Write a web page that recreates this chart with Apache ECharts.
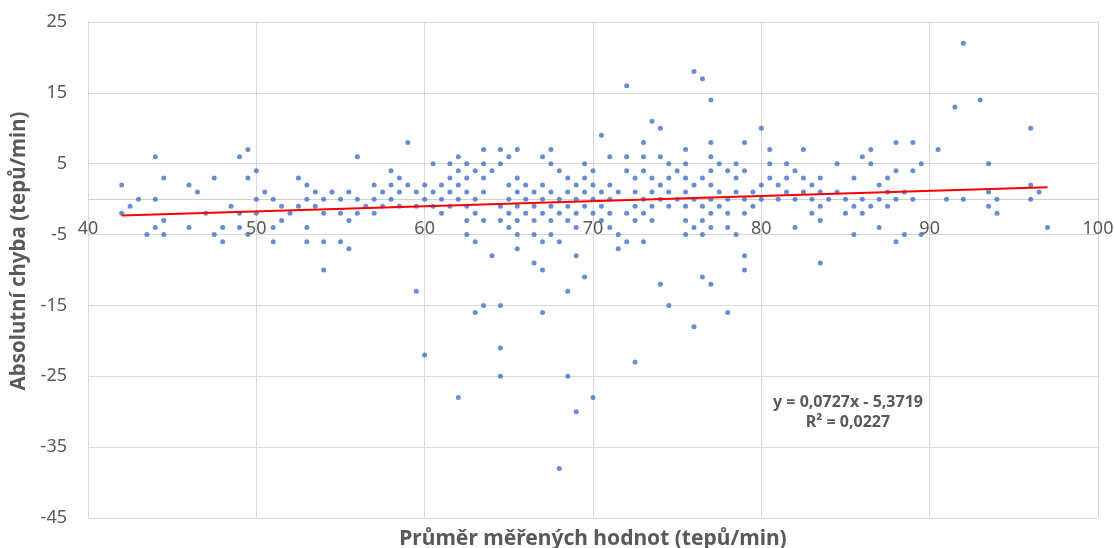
<!DOCTYPE html>
<html>
<head>
<meta charset="utf-8">
<script src="https://cdn.jsdelivr.net/npm/echarts@6/dist/echarts.min.js"></script>
<style>
  html, body { margin: 0; padding: 0; background: #fff; }
  #chart { width: 1114px; height: 548px; }
</style>
</head>
<body>
<div id="chart"></div>
<script>
// prumer mereni (x) a absolutni chyba (y), po bodech
var avgHr = [
  42, 42, 42.5, 43, 43.5, 44, 44, 44, 44.5, 44.5, 44.5, 46, 46, 46.5, 47, 47.5, 47.5, 48, 48, 48.5, 49, 49, 49, 49.5, 49.5, 49.5,
  50, 50, 50, 50.5, 51, 51, 51, 51.5, 51.5, 52, 52.5, 52.5, 53, 53, 53, 53, 53.5, 53.5, 54, 54, 54, 54, 54.5, 55, 55, 55, 55.5, 55.5, 55.5,
  56, 56, 56, 56.5, 57, 57, 57, 57.5, 57.5, 58, 58, 58, 58.5, 58.5, 58.5, 59, 59, 59.5, 59.5, 59.5,
  60, 60, 60, 60.5, 60.5, 60.5, 61, 61, 61, 61.5, 61.5, 61.5, 61.5, 62, 62, 62, 62, 62, 62.5, 62.5, 62.5, 62.5, 62.5, 62.5,
  63, 63, 63, 63, 63, 63.5, 63.5, 63.5, 63.5, 63.5, 63.5, 64, 64, 64.5, 64.5, 64.5, 64.5, 64.5, 64.5, 64.5,
  65, 65, 65, 65, 65, 65.5, 65.5, 65.5, 65.5, 65.5, 65.5, 65.5, 66, 66, 66, 66.5, 66.5, 66.5, 66.5, 66.5,
  67, 67, 67, 67, 67, 67, 67, 67.5, 67.5, 67.5, 67.5, 67.5, 67.5, 68, 68, 68, 68, 68, 68.5, 68.5, 68.5, 68.5, 68.5, 68.5,
  69, 69, 69, 69, 69, 69, 69.5, 69.5, 69.5, 69.5, 69.5,
  70, 70, 70, 70, 70, 70.5, 70.5, 70.5, 70.5, 71, 71, 71, 71, 71, 71.5, 71.5, 71.5, 72, 72, 72, 72, 72, 72.5, 72.5, 72.5, 72.5, 72.5,
  73, 73, 73, 73, 73, 73, 73.5, 73.5, 73.5, 73.5, 73.5, 74, 74, 74, 74, 74, 74.5, 74.5, 74.5, 74.5, 74.5, 75, 75,
  75.5, 75.5, 75.5, 75.5, 75.5, 75.5, 75.5, 76, 76, 76, 76, 76, 76.5, 76.5, 76.5, 76.5, 76.5, 76.5,
  77, 77, 77, 77, 77, 77, 77, 77, 77, 77.5, 77.5, 77.5, 78, 78, 78, 78, 78, 78.5, 78.5, 78.5, 78.5, 79, 79, 79, 79, 79, 79, 79.5, 79.5,
  80, 80, 80, 80.5, 80.5, 80.5, 81, 81, 81.5, 81.5, 81.5, 82, 82, 82, 82.5, 82.5, 82.5, 83, 83, 83, 83.5, 83.5, 83.5, 83.5, 83.5,
  84, 84.5, 84.5, 85, 85, 85.5, 85.5, 85.5, 86, 86, 86, 86.5, 86.5, 86.5, 87, 87, 87, 87.5, 87.5, 87.5, 88, 88, 88, 88, 88.5, 88.5,
  89, 89, 89, 89.5, 89.5,
  90.5, 91, 91.5, 92, 92, 93, 93.5, 93.5, 93.5, 94, 94, 96, 96, 96, 96.5, 97
];
var absErr = [
  2, -2, -1, 0, -5, 6, 0, -4, 3, -3, -5, 2, -4, 1, -2, 3, -5, -4, -6, -1, 6, -2, -4, 7, 3, -5,
  4, 0, -2, 1, 0, -4, -6, -1, -3, -2, 3, -1, 2, 0, -4, -6, 1, -1, 0, -2, -6, -10, 1, 0, -2, -6, 1, -3, -7,
  6, 0, -2, -1, 2, 0, -2, 1, -1, 4, 2, 0, 3, 1, -1, 8, 2, 1, -1, -13,
  2, 0, -22, 5, 1, -1, 2, 0, -2, 5, 3, 1, -1, 6, 4, 2, 0, -28, 5, 3, 1, -1, -3, -5,
  4, 0, -2, -6, -16, 7, 5, 3, 1, -3, -15, 4, -8, 7, 5, -1, -3, -15, -21, -25,
  6, 2, 0, -2, -4, 7, 3, 1, -1, -3, -5, -7, 2, 0, -2, 1, -1, -3, -5, -9,
  6, 2, 0, -2, -6, -10, -16, 7, 5, 1, -1, -3, -5, 4, 0, -2, -6, -38, 3, 1, -1, -3, -13, -25,
  2, 0, -2, -4, -8, -30, 5, 3, 1, -1, -11,
  4, 2, 0, -2, -28, 9, 1, -1, -3, 6, 2, 0, -2, -4, 1, -5, -7, 16, 6, 4, -2, -6, 3, 1, -1, -3, -23,
  8, 6, 4, 0, -2, -6, 11, 3, 1, -1, -3, 10, 6, 2, 0, -12, 5, 3, 1, -1, -15, 4, 0,
  7, 5, 3, 1, -1, -3, -5, 18, 2, 0, -4, -18, 17, 3, -1, -3, -5, -11,
  14, 8, 6, 4, 2, 0, -2, -4, -12, 5, 1, -1, 4, 0, -2, -4, -16, 5, 3, 1, -5, 8, 4, 0, -2, -8, -10, 1, -1,
  10, 2, 0, 7, 5, 3, 2, 0, 5, 3, 1, 4, 0, -4, 7, 3, 1, 2, 0, -2, 3, 1, -1, -3, -9,
  0, 5, 1, 0, -2, 3, -1, -5, 6, 0, -2, 7, 5, -1, 2, 0, -4, 3, 1, -1, 8, 4, 0, -6, 1, -5,
  8, 4, 0, 5, -5,
  7, 0, 13, 22, 0, 14, 5, 1, -1, 0, -2, 10, 2, 0, 1, -4
];

// linearni trend (Excel)
var trendSlope = 0.0727;
var trendIntercept = -5.3719;
var trendLabel = ['y = 0,0727x - 5,3719', 'R² = 0,0227'];

var xTicks = { min: 40, max: 100, step: 10 };
var yTicks = { min: -45, max: 25, step: 10 };

var points = avgHr.map(function (x, i) { return [x, absErr[i]]; });
var xLo = Math.min.apply(null, avgHr);
var xHi = Math.max.apply(null, avgHr);
var trend = [
  [xLo, trendSlope * xLo + trendIntercept],
  [xHi, trendSlope * xHi + trendIntercept]
];

// onZero nefunguje spolehlive -> posun osy x na nulu rucne
var gridTop = 22, gridBottom = 30, H = 548;
var plotH = H - gridTop - gridBottom;
var zeroShift = -plotH * (0 - yTicks.min) / (yTicks.max - yTicks.min);

var gray = '#595959';
var chart = echarts.init(document.getElementById('chart'));

chart.setOption({
  animation: false,
  textStyle: { fontFamily: 'Noto Sans' },
  grid: { left: 88, right: 16, top: gridTop, bottom: gridBottom, outerBoundsMode: 'none', containLabel: false },
  xAxis: {
    type: 'value',
    min: xTicks.min, max: xTicks.max, interval: xTicks.step,
    offset: zeroShift,
    name: 'Průměr měřených hodnot (tepů/min)',
    nameLocation: 'middle',
    nameGap: 329,
    nameTextStyle: { color: gray, fontSize: 21, fontWeight: 'bold' },
    axisLine: { show: true, onZero: false, lineStyle: { color: '#d0d0d0', width: 1 } },
    axisTick: { show: false },
    axisLabel: { color: gray, fontSize: 18, margin: 21 },
    splitLine: { lineStyle: { color: '#d9d9d9' } }
  },
  yAxis: {
    type: 'value',
    min: yTicks.min, max: yTicks.max, interval: yTicks.step,
    name: 'Absolutní chyba (tepů/min)',
    nameLocation: 'middle',
    nameGap: 55,
    nameTextStyle: { color: gray, fontSize: 20.5, fontWeight: 'bold', padding: [0, 0, 0, 38] },
    axisLine: { show: true, onZero: false, lineStyle: { color: '#d9d9d9', width: 1 } },
    axisTick: { show: false },
    axisLabel: { color: gray, fontSize: 18, margin: 21 },
    splitLine: { lineStyle: { color: '#d9d9d9' } }
  },
  series: [
    {
      type: 'scatter',
      data: points,
      symbolSize: 5,
      itemStyle: { color: '#4472C4' },
      z: 2
    },
    {
      type: 'line',
      data: trend,
      symbol: 'none',
      lineStyle: { color: '#ff0000', width: 2 },
      z: 3
    }
  ],
  graphic: [{
    type: 'text',
    x: 848, y: 392,
    style: {
      text: trendLabel.join('\n'),
      align: 'center',
      font: 'bold 16px "Noto Sans"',
      fill: gray,
      lineHeight: 20
    }
  }]
});
</script>
</body>
</html>
